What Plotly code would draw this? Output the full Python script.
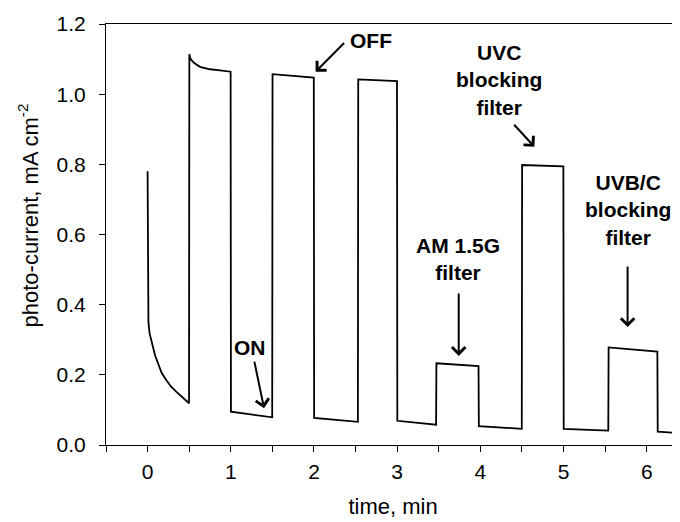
import plotly.graph_objects as go

# ---- data ----
time_min = [
    0.000, 0.002, 0.004, 0.010, 0.024, 0.040, 0.064, 0.090, 0.124, 0.170, 0.224, 0.280, 0.344, 0.420, 0.498,
    0.502, 0.510, 0.530, 0.560, 0.630, 0.750, 0.870, 0.998,
    1.002, 1.100, 1.200, 1.300, 1.400, 1.498,
    1.502, 1.600, 1.700, 1.800, 1.900, 1.998,
    2.002, 2.100, 2.200, 2.300, 2.400, 2.528,
    2.532, 2.650, 2.750, 2.850, 2.998,
    3.002, 3.100, 3.200, 3.300, 3.468,
    3.472, 3.600, 3.700, 3.800, 3.978,
    3.982, 4.100, 4.200, 4.300, 4.498,
    4.502, 4.600, 4.700, 4.800, 4.998,
    5.002, 5.100, 5.200, 5.300, 5.538,
    5.542, 5.650, 5.750, 5.850, 5.950, 6.128,
    6.132, 6.250, 6.400,
]
photo_current = [
    0.780, 0.550, 0.400, 0.350, 0.318, 0.300, 0.280, 0.255, 0.233, 0.205, 0.185, 0.167, 0.152, 0.135, 0.119,
    1.114, 1.104, 1.096, 1.089, 1.078, 1.071, 1.068, 1.064,
    0.095, 0.092, 0.089, 0.086, 0.082, 0.079,
    1.057, 1.055, 1.054, 1.052, 1.050, 1.047,
    0.077, 0.075, 0.072, 0.070, 0.068, 0.066,
    1.042, 1.041, 1.040, 1.039, 1.037,
    0.069, 0.067, 0.064, 0.062, 0.058,
    0.233, 0.231, 0.229, 0.227, 0.225,
    0.054, 0.052, 0.050, 0.048, 0.046,
    0.798, 0.797, 0.796, 0.795, 0.794,
    0.046, 0.045, 0.044, 0.042, 0.041,
    0.278, 0.276, 0.274, 0.272, 0.270, 0.266,
    0.038, 0.036, 0.034,
]

# annotation labels and arrows
label_texts = ["OFF", "ON", "AM 1.5G<br>filter", "UVC<br>blocking<br>filter", "UVB/C<br>blocking<br>filter"]
label_x = [2.69, 1.23, 3.73, 4.23, 5.78]
label_y = [1.152, 0.279, 0.530, 1.040, 0.670]
arrow_tip_x = [2.02, 1.40, 3.74, 4.65, 5.77]
arrow_tip_y = [1.064, 0.105, 0.254, 0.850, 0.336]
arrow_tail_x = [2.38, 1.28, 3.74, 4.39, 5.77]
arrow_tail_y = [1.150, 0.242, 0.436, 0.917, 0.513]

X_TITLE = "time, min"
Y_TITLE = "photo-current, mA cm<sup>-2</sup>"

FONT = "Liberation Sans, Arial, sans-serif"

fig = go.Figure()
fig.add_trace(go.Scatter(x=time_min, y=photo_current, mode="lines",
                         line=dict(color="black", width=1.8), showlegend=False,
                         hoverinfo="skip"))

for txt, lx, ly in zip(label_texts, label_x, label_y):
    fig.add_annotation(x=lx, y=ly, xref="x", yref="y", text="<b>%s</b>" % txt,
                       showarrow=False, font=dict(family=FONT, size=21, color="black"),
                       xanchor="center", yanchor="middle", align="center")

for tx, ty, ax, ay in zip(arrow_tip_x, arrow_tip_y, arrow_tail_x, arrow_tail_y):
    fig.add_annotation(x=tx, y=ty, ax=ax, ay=ay, xref="x", yref="y", axref="x", ayref="y",
                       text="", showarrow=True, arrowhead=4, arrowsize=1.3, arrowwidth=2,
                       arrowcolor="black", standoff=0, startstandoff=0)

# y-axis title placed as rotated text left of the tick labels
fig.add_annotation(x=-0.136, y=0.545, xref="paper", yref="paper", text=Y_TITLE,
                   textangle=-90, showarrow=False, xanchor="center", yanchor="middle",
                   font=dict(family=FONT, size=22, color="black"))

# the page body adds an 8 px offset, so the figure is sized to fill the rest of the window
fig.update_layout(
    width=672, height=514,
    margin=dict(l=98, r=0, t=16, b=77, autoexpand=False),
    paper_bgcolor="white", plot_bgcolor="white",
    font=dict(family=FONT, size=21, color="black"),
    xaxis=dict(range=[-0.5, 6.4], dtick=1, tick0=0, ticks="outside", ticklen=6,
               tickwidth=1, tickcolor="black", showline=True, linecolor="black",
               linewidth=1, mirror=True, showgrid=False, zeroline=False,
               automargin=False, ticklabelstandoff=2,
               minor=dict(dtick=0.5, tick0=0, ticks="outside", ticklen=6,
                          tickcolor="black", showgrid=False),
               title=dict(text=X_TITLE, font=dict(size=22), standoff=16)),
    yaxis=dict(range=[0, 1.2], dtick=0.2, tick0=0, tickformat=".1f", ticks="outside",
               ticklen=6, tickwidth=1, tickcolor="black", showline=True,
               linecolor="black", linewidth=1, showgrid=False, zeroline=False,
               automargin=False, ticklabelstandoff=9),
)

fig.write_html("out.html")
